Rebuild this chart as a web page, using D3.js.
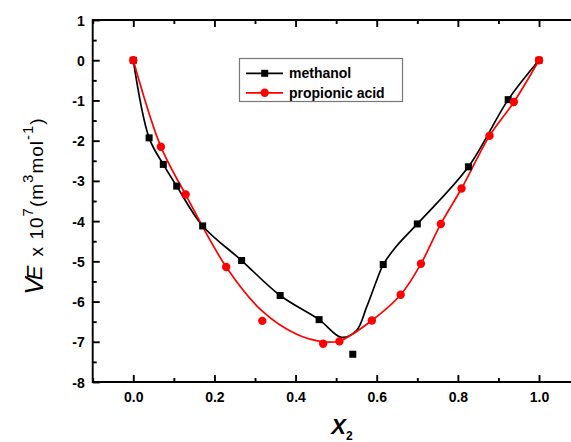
<!DOCTYPE html>
<html>
<head>
<meta charset="utf-8">
<script src="https://cdn.jsdelivr.net/npm/d3@7"></script>
<style>
  body { margin: 0; background: #fff; }
  svg { font-family: "Liberation Sans", Arial, sans-serif; display: block; }
  .tick text { font-weight: bold; font-size: 14px; }
</style>
</head>
<body>
<svg width="571" height="442"></svg>
<script>
// measured points
const methanolX = [0, 0.039, 0.074, 0.107, 0.171, 0.267, 0.362, 0.458, 0.541, 0.616, 0.700, 0.826, 0.924, 1.0];
const methanolY = [0, -1.93, -2.59, -3.13, -4.12, -4.98, -5.85, -6.45, -7.31, -5.08, -4.07, -2.65, -0.98, 0];
const propionicX = [0, 0.068, 0.129, 0.229, 0.318, 0.468, 0.508, 0.588, 0.659, 0.709, 0.758, 0.809, 0.878, 0.938, 1.0];
const propionicY = [0, -2.15, -3.34, -5.14, -6.48, -7.05, -6.99, -6.47, -5.83, -5.06, -4.07, -3.19, -1.88, -1.04, 0];

// fitted curves
const methanolFitX = [0, 0.039, 0.074, 0.107, 0.171, 0.267, 0.362, 0.458, 0.513, 0.55, 0.575, 0.60, 0.616, 0.649, 0.700, 0.826, 0.924, 1.0];
const methanolFitY = [0, -1.93, -2.59, -3.13, -4.12, -4.98, -5.85, -6.45, -6.89, -6.72, -6.14, -5.47, -5.08, -4.62, -4.07, -2.65, -0.98, 0];
const propionicFitX = [0, 0.068, 0.129, 0.229, 0.318, 0.40, 0.468, 0.508, 0.588, 0.659, 0.709, 0.758, 0.809, 0.878, 0.938, 1.0];
const propionicFitY = [0, -2.15, -3.34, -5.14, -6.24, -6.80, -7.0, -6.98, -6.47, -5.83, -5.06, -4.07, -3.19, -1.88, -1.04, 0];

const xMajor = [0, 0.2, 0.4, 0.6, 0.8, 1.0];
const xMinor = [-0.1, 0.1, 0.3, 0.5, 0.7, 0.9, 1.1];
const yMajor = [1, 0, -1, -2, -3, -4, -5, -6, -7, -8];
const yMinor = [0.5, -0.5, -1.5, -2.5, -3.5, -4.5, -5.5, -6.5, -7.5];

const seriesNames = ["methanol", "propionic acid"];
const seriesColors = ["#000000", "#ff0000"];

const svg = d3.select("svg");
const plotLeft = 92.7, plotRight = 579.6, plotTop = 20, plotBottom = 382;

const x = d3.scaleLinear().domain([-0.1, 1.1]).range([plotLeft, plotRight]);
const y = d3.scaleLinear().domain([-8, 1]).range([plotBottom, plotTop]);

const axisStroke = 1.9;

function styleAxis(g) {
    g.select(".domain").remove();
    g.selectAll(".tick line").attr("stroke", "#000").attr("stroke-width", axisStroke);
}

// bottom axis
svg.append("g").attr("transform", `translate(0,${plotBottom})`)
    .call(d3.axisBottom(x).tickValues(xMajor).tickSize(-7).tickFormat(d3.format(".1f")))
    .call(styleAxis)
    .call(g => g.selectAll(".tick text").attr("y", 20).attr("dy", 0).attr("fill", "#000"));
svg.append("g").attr("transform", `translate(0,${plotBottom})`)
    .call(d3.axisBottom(x).tickValues(xMinor).tickSize(-4).tickFormat(""))
    .call(styleAxis);
// top axis
svg.append("g").attr("transform", `translate(0,${plotTop})`)
    .call(d3.axisTop(x).tickValues(xMajor).tickSize(-7).tickFormat(""))
    .call(styleAxis);
svg.append("g").attr("transform", `translate(0,${plotTop})`)
    .call(d3.axisTop(x).tickValues(xMinor).tickSize(-4).tickFormat(""))
    .call(styleAxis);
// left axis
svg.append("g").attr("transform", `translate(${plotLeft},0)`)
    .call(d3.axisLeft(y).tickValues(yMajor).tickSize(-7).tickFormat(d => d3.format("d")(d).replace("\u2212", "-")))
    .call(styleAxis)
    .call(g => g.selectAll(".tick text").attr("x", -8).attr("dy", "0.36em").attr("fill", "#000"));
svg.append("g").attr("transform", `translate(${plotLeft},0)`)
    .call(d3.axisLeft(y).tickValues(yMinor).tickSize(-4).tickFormat(""))
    .call(styleAxis);

// frame
svg.append("path")
    .attr("d", `M${plotLeft},${plotBottom}V${plotTop}H${plotRight}V${plotBottom}Z`)
    .attr("fill", "none").attr("stroke", "#000").attr("stroke-width", axisStroke);

// fit curves
const line = d3.line()
    .x(d => x(d[0])).y(d => y(d[1]))
    .curve(d3.curveCatmullRom.alpha(0.5));

const fits = [d3.zip(methanolFitX, methanolFitY), d3.zip(propionicFitX, propionicFitY)];
fits.forEach((pts, i) => {
    svg.append("path").datum(pts)
        .attr("d", line)
        .attr("fill", "none")
        .attr("stroke", seriesColors[i])
        .attr("stroke-width", 1.7);
});

// markers
svg.append("g").selectAll("rect")
    .data(d3.zip(methanolX, methanolY))
    .join("rect")
    .attr("x", d => x(d[0]) - 3.5).attr("y", d => y(d[1]) - 3.5)
    .attr("width", 7).attr("height", 7)
    .attr("fill", seriesColors[0]);

svg.append("g").selectAll("circle")
    .data(d3.zip(propionicX, propionicY))
    .join("circle")
    .attr("cx", d => x(d[0])).attr("cy", d => y(d[1]))
    .attr("r", 4.2)
    .attr("fill", seriesColors[1]);

// legend
const legend = svg.append("g");
legend.append("rect")
    .attr("x", 239.5).attr("y", 58.5).attr("width", 163).attr("height", 43)
    .attr("fill", "#fff").attr("stroke", "#777").attr("stroke-width", 1.2);
seriesNames.forEach((name, i) => {
    const ly = 73.3 + i * 19.5;
    legend.append("line")
        .attr("x1", 246).attr("x2", 283).attr("y1", ly).attr("y2", ly)
        .attr("stroke", seriesColors[i]).attr("stroke-width", 1.7);
    if (i === 0) {
        legend.append("rect").attr("x", 264.7 - 3.5).attr("y", ly - 3.5)
            .attr("width", 7).attr("height", 7).attr("fill", seriesColors[i]);
    } else {
        legend.append("circle").attr("cx", 264.7).attr("cy", ly).attr("r", 4.2)
            .attr("fill", seriesColors[i]);
    }
    legend.append("text")
        .attr("x", 289).attr("y", ly).attr("dy", "0.36em")
        .attr("font-size", 14).attr("font-weight", "bold")
        .text(name);
});

// x axis title
const xt = svg.append("text")
    .attr("x", 342).attr("y", 434)
    .attr("text-anchor", "middle")
    .attr("font-size", 22).attr("font-weight", "bold").attr("font-style", "italic");
xt.append("tspan").text("X");
xt.append("tspan").attr("font-size", 12).attr("font-style", "normal").attr("dy", 6).text("2");

// y axis title
const yt = svg.append("text")
    .attr("transform", "translate(43,206) rotate(-90)")
    .attr("text-anchor", "middle")
    .attr("font-size", 19)
    .attr("letter-spacing", 1);
yt.append("tspan").attr("font-size", 26).attr("font-style", "italic").text("V");
yt.append("tspan").attr("font-size", 22).attr("font-style", "italic").attr("dx", -4).attr("dy", -1).text("E");
yt.append("tspan").attr("dy", 1).attr("dx", 2).text(" x 10");
yt.append("tspan").attr("font-size", 15).attr("dy", -10).text("7");
yt.append("tspan").attr("dy", 10).text("(m");
yt.append("tspan").attr("font-size", 15).attr("dy", -10).text("3");
yt.append("tspan").attr("dy", 10).text("mol");
yt.append("tspan").attr("font-size", 15).attr("dy", -10).text("-1");
yt.append("tspan").attr("dy", 10).text(")");
</script>
</body>
</html>
